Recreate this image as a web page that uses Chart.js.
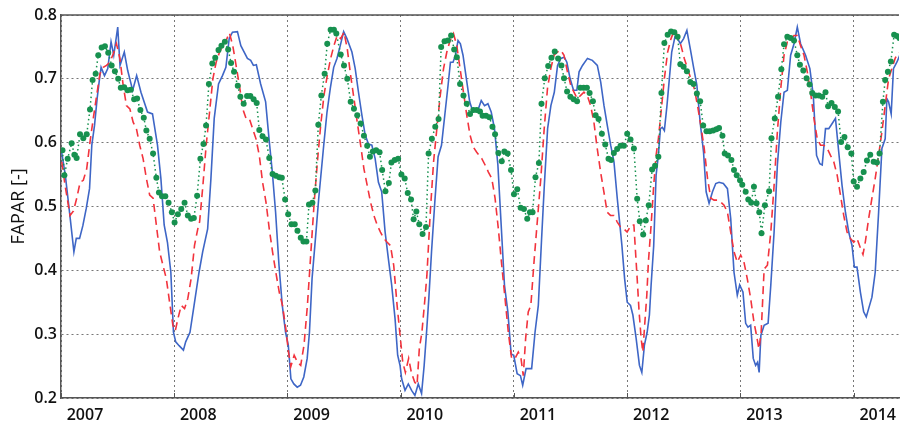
<!DOCTYPE html>
<html>
<head>
<meta charset="utf-8">
<script src="https://cdn.jsdelivr.net/npm/chart.js@4.4.1/dist/chart.umd.min.js"></script>
<style>
  html, body { margin: 0; padding: 0; background: #fff; }
  #wrap { width: 903px; height: 429px; }
</style>
</head>
<body>
<div id="wrap"><canvas id="fapar" width="903" height="429"></canvas></div>
<script>
// tick labels
const yearTicks = [2007, 2008, 2009, 2010, 2011, 2012, 2013, 2014];
const valueTicks = [0.2, 0.3, 0.4, 0.5, 0.6, 0.7, 0.8];

// blue solid series (decimal year, FAPAR)
const blueX = [2007.003, 2007.038, 2007.076, 2007.114, 2007.135, 2007.164, 2007.193, 2007.223, 2007.252, 2007.272,
  2007.296, 2007.319, 2007.340, 2007.354, 2007.384, 2007.413, 2007.442, 2007.466, 2007.501, 2007.521,
  2007.559, 2007.589, 2007.633, 2007.668, 2007.706, 2007.764, 2007.808, 2007.852, 2007.882, 2007.911,
  2007.940, 2007.970, 2007.993, 2008.013, 2008.043, 2008.081, 2008.101, 2008.139, 2008.175, 2008.219,
  2008.251, 2008.295, 2008.324, 2008.353, 2008.391, 2008.426, 2008.456, 2008.485, 2008.514, 2008.558,
  2008.588, 2008.646, 2008.675, 2008.699, 2008.725, 2008.763, 2008.807, 2008.837, 2008.866, 2008.895,
  2008.925, 2008.954, 2008.983, 2009.007, 2009.030, 2009.056, 2009.086, 2009.115, 2009.144, 2009.174,
  2009.194, 2009.217, 2009.247, 2009.276, 2009.320, 2009.349, 2009.378, 2009.408, 2009.437, 2009.466,
  2009.496, 2009.525, 2009.569, 2009.598, 2009.627, 2009.657, 2009.686, 2009.715, 2009.745, 2009.774,
  2009.803, 2009.832, 2009.862, 2009.891, 2009.920, 2009.950, 2009.973, 2009.994, 2010.008, 2010.038,
  2010.067, 2010.096, 2010.125, 2010.155, 2010.184, 2010.207, 2010.228, 2010.248, 2010.272, 2010.301,
  2010.330, 2010.360, 2010.389, 2010.418, 2010.439, 2010.462, 2010.483, 2010.506, 2010.527, 2010.550,
  2010.580, 2010.609, 2010.638, 2010.662, 2010.682, 2010.711, 2010.740, 2010.770, 2010.799, 2010.828,
  2010.858, 2010.887, 2010.916, 2010.946, 2010.975, 2010.998, 2011.028, 2011.057, 2011.077, 2011.107,
  2011.136, 2011.156, 2011.186, 2011.215, 2011.244, 2011.268, 2011.297, 2011.326, 2011.356, 2011.385,
  2011.414, 2011.444, 2011.467, 2011.496, 2011.526, 2011.555, 2011.575, 2011.605, 2011.649, 2011.692,
  2011.736, 2011.766, 2011.795, 2011.824, 2011.854, 2011.883, 2011.912, 2011.953, 2011.977, 2012.000,
  2012.029, 2012.050, 2012.079, 2012.108, 2012.129, 2012.152, 2012.176, 2012.196, 2012.211, 2012.234,
  2012.255, 2012.275, 2012.293, 2012.310, 2012.328, 2012.351, 2012.372, 2012.393, 2012.422, 2012.445,
  2012.469, 2012.498, 2012.527, 2012.557, 2012.586, 2012.615, 2012.644, 2012.674, 2012.697, 2012.723,
  2012.753, 2012.782, 2012.811, 2012.849, 2012.885, 2012.914, 2012.943, 2012.972, 2012.993, 2013.022,
  2013.046, 2013.066, 2013.090, 2013.113, 2013.134, 2013.151, 2013.165, 2013.180, 2013.209, 2013.244,
  2013.268, 2013.297, 2013.326, 2013.356, 2013.385, 2013.414, 2013.443, 2013.473, 2013.502, 2013.531,
  2013.575, 2013.613, 2013.643, 2013.672, 2013.701, 2013.722, 2013.751, 2013.780, 2013.810, 2013.839,
  2013.868, 2013.897, 2013.927, 2013.956, 2013.985, 2014.006, 2014.029, 2014.059, 2014.088, 2014.111,
  2014.132, 2014.161, 2014.190, 2014.220, 2014.249, 2014.278, 2014.293, 2014.308, 2014.331, 2014.351,
  2014.381, 2014.407];
const blueY = [0.588, 0.549, 0.490, 0.429, 0.450, 0.450, 0.470, 0.497, 0.528, 0.596,
  0.627, 0.669, 0.700, 0.718, 0.705, 0.716, 0.758, 0.737, 0.781, 0.721,
  0.742, 0.713, 0.682, 0.705, 0.679, 0.648, 0.645, 0.596, 0.544, 0.471,
  0.444, 0.397, 0.303, 0.288, 0.282, 0.275, 0.288, 0.303, 0.345, 0.397,
  0.429, 0.465, 0.544, 0.638, 0.692, 0.705, 0.718, 0.763, 0.773, 0.774,
  0.752, 0.732, 0.729, 0.721, 0.722, 0.692, 0.664, 0.606, 0.554, 0.491,
  0.408, 0.345, 0.303, 0.283, 0.230, 0.222, 0.217, 0.220, 0.233, 0.262,
  0.303, 0.387, 0.450, 0.513, 0.596, 0.648, 0.685, 0.718, 0.732, 0.752,
  0.774, 0.763, 0.742, 0.716, 0.679, 0.643, 0.612, 0.598, 0.596, 0.575,
  0.538, 0.523, 0.460, 0.418, 0.377, 0.324, 0.267, 0.251, 0.230, 0.212,
  0.222, 0.212, 0.204, 0.222, 0.207, 0.251, 0.303, 0.356, 0.429, 0.507,
  0.578, 0.596, 0.643, 0.690, 0.726, 0.726, 0.737, 0.760, 0.755, 0.737,
  0.700, 0.664, 0.648, 0.651, 0.651, 0.666, 0.658, 0.661, 0.648, 0.622,
  0.565, 0.471, 0.377, 0.335, 0.269, 0.267, 0.238, 0.235, 0.220, 0.246,
  0.246, 0.246, 0.303, 0.345, 0.450, 0.533, 0.622, 0.658, 0.679, 0.721,
  0.732, 0.734, 0.726, 0.700, 0.682, 0.682, 0.711, 0.721, 0.732, 0.729,
  0.721, 0.695, 0.658, 0.627, 0.596, 0.570, 0.513, 0.439, 0.387, 0.350,
  0.345, 0.330, 0.293, 0.251, 0.240, 0.283, 0.303, 0.330, 0.377, 0.439,
  0.549, 0.580, 0.622, 0.624, 0.619, 0.658, 0.700, 0.742, 0.766, 0.763,
  0.755, 0.763, 0.776, 0.747, 0.718, 0.690, 0.632, 0.585, 0.523, 0.505,
  0.523, 0.536, 0.538, 0.536, 0.528, 0.481, 0.397, 0.361, 0.377, 0.366,
  0.317, 0.311, 0.314, 0.262, 0.251, 0.256, 0.240, 0.298, 0.314, 0.317,
  0.377, 0.460, 0.565, 0.632, 0.679, 0.682, 0.737, 0.755, 0.781, 0.755,
  0.737, 0.716, 0.674, 0.580, 0.567, 0.565, 0.622, 0.622, 0.630, 0.638,
  0.585, 0.533, 0.491, 0.460, 0.439, 0.405, 0.405, 0.366, 0.335, 0.327,
  0.340, 0.358, 0.397, 0.491, 0.591, 0.606, 0.669, 0.664, 0.645, 0.716,
  0.726, 0.737];

// red dashed series
const redX = [2007.007, 2007.036, 2007.080, 2007.110, 2007.139, 2007.169, 2007.197, 2007.227, 2007.256, 2007.285,
  2007.315, 2007.344, 2007.373, 2007.402, 2007.432, 2007.461, 2007.490, 2007.520, 2007.549, 2007.578,
  2007.608, 2007.637, 2007.666, 2007.695, 2007.725, 2007.754, 2007.783, 2007.813, 2007.842, 2007.871,
  2007.900, 2007.930, 2007.959, 2007.988, 2008.009, 2008.032, 2008.062, 2008.091, 2008.120, 2008.149,
  2008.179, 2008.208, 2008.224, 2008.253, 2008.282, 2008.312, 2008.341, 2008.370, 2008.400, 2008.429,
  2008.458, 2008.487, 2008.517, 2008.546, 2008.575, 2008.605, 2008.634, 2008.663, 2008.692, 2008.722,
  2008.751, 2008.780, 2008.810, 2008.839, 2008.868, 2008.897, 2008.927, 2008.956, 2008.985, 2009.009,
  2009.029, 2009.059, 2009.088, 2009.117, 2009.146, 2009.176, 2009.205, 2009.234, 2009.264, 2009.293,
  2009.322, 2009.351, 2009.381, 2009.410, 2009.439, 2009.470, 2009.499, 2009.528, 2009.558, 2009.587,
  2009.616, 2009.646, 2009.675, 2009.704, 2009.733, 2009.763, 2009.792, 2009.821, 2009.851, 2009.880,
  2009.909, 2009.938, 2009.968, 2009.997, 2010.018, 2010.041, 2010.070, 2010.094, 2010.123, 2010.144,
  2010.164, 2010.187, 2010.211, 2010.231, 2010.261, 2010.290, 2010.319, 2010.349, 2010.378, 2010.407,
  2010.436, 2010.466, 2010.495, 2010.524, 2010.554, 2010.583, 2010.612, 2010.641, 2010.671, 2010.716,
  2010.745, 2010.774, 2010.804, 2010.833, 2010.862, 2010.892, 2010.921, 2010.950, 2010.979, 2011.009,
  2011.038, 2011.062, 2011.082, 2011.103, 2011.126, 2011.149, 2011.179, 2011.208, 2011.237, 2011.267,
  2011.296, 2011.325, 2011.354, 2011.384, 2011.413, 2011.442, 2011.472, 2011.501, 2011.530, 2011.559,
  2011.589, 2011.618, 2011.647, 2011.677, 2011.706, 2011.735, 2011.765, 2011.794, 2011.823, 2011.852,
  2011.882, 2011.911, 2011.940, 2011.970, 2011.999, 2012.035, 2012.059, 2012.070, 2012.088, 2012.105,
  2012.123, 2012.138, 2012.152, 2012.173, 2012.187, 2012.211, 2012.234, 2012.255, 2012.275, 2012.299,
  2012.328, 2012.357, 2012.387, 2012.416, 2012.445, 2012.475, 2012.504, 2012.533, 2012.562, 2012.592,
  2012.621, 2012.650, 2012.680, 2012.709, 2012.738, 2012.767, 2012.797, 2012.826, 2012.855, 2012.885,
  2012.914, 2012.943, 2012.972, 2013.002, 2013.031, 2013.060, 2013.090, 2013.119, 2013.142, 2013.163,
  2013.183, 2013.209, 2013.238, 2013.268, 2013.297, 2013.326, 2013.356, 2013.385, 2013.414, 2013.443,
  2013.473, 2013.502, 2013.531, 2013.561, 2013.590, 2013.619, 2013.649, 2013.678, 2013.707, 2013.736,
  2013.766, 2013.795, 2013.824, 2013.854, 2013.883, 2013.912, 2013.941, 2013.971, 2014.000, 2014.029,
  2014.059, 2014.082, 2014.103, 2014.132, 2014.161, 2014.190, 2014.220, 2014.249, 2014.278, 2014.308,
  2014.337, 2014.366, 2014.395];
const redY = [0.570, 0.533, 0.486, 0.493, 0.513, 0.538, 0.541, 0.559, 0.601, 0.638,
  0.674, 0.708, 0.718, 0.721, 0.726, 0.739, 0.755, 0.732, 0.690, 0.658,
  0.653, 0.632, 0.622, 0.596, 0.575, 0.544, 0.518, 0.513, 0.471, 0.429,
  0.408, 0.387, 0.350, 0.314, 0.305, 0.324, 0.345, 0.340, 0.356, 0.387,
  0.439, 0.465, 0.476, 0.533, 0.596, 0.648, 0.700, 0.726, 0.742, 0.752,
  0.760, 0.772, 0.752, 0.721, 0.690, 0.653, 0.638, 0.638, 0.622, 0.606,
  0.580, 0.538, 0.507, 0.465, 0.429, 0.397, 0.366, 0.345, 0.309, 0.272,
  0.249, 0.267, 0.256, 0.251, 0.283, 0.345, 0.424, 0.502, 0.570, 0.627,
  0.674, 0.705, 0.732, 0.752, 0.768, 0.763, 0.773, 0.747, 0.705, 0.669,
  0.632, 0.596, 0.559, 0.533, 0.507, 0.486, 0.471, 0.460, 0.450, 0.444,
  0.439, 0.408, 0.345, 0.293, 0.256, 0.240, 0.262, 0.240, 0.225, 0.220,
  0.277, 0.303, 0.350, 0.392, 0.491, 0.570, 0.622, 0.674, 0.716, 0.742,
  0.760, 0.771, 0.752, 0.716, 0.679, 0.643, 0.612, 0.593, 0.585, 0.575,
  0.565, 0.554, 0.544, 0.513, 0.465, 0.408, 0.356, 0.303, 0.262, 0.262,
  0.272, 0.262, 0.235, 0.293, 0.335, 0.345, 0.418, 0.481, 0.544, 0.622,
  0.685, 0.716, 0.737, 0.742, 0.745, 0.737, 0.711, 0.690, 0.679, 0.669,
  0.674, 0.679, 0.674, 0.658, 0.632, 0.591, 0.554, 0.523, 0.491, 0.486,
  0.486, 0.476, 0.468, 0.465, 0.460, 0.471, 0.471, 0.439, 0.387, 0.335,
  0.293, 0.272, 0.309, 0.361, 0.413, 0.471, 0.533, 0.580, 0.606, 0.648,
  0.700, 0.742, 0.763, 0.776, 0.768, 0.752, 0.732, 0.716, 0.700, 0.685,
  0.658, 0.627, 0.591, 0.544, 0.513, 0.510, 0.510, 0.507, 0.502, 0.491,
  0.460, 0.429, 0.413, 0.424, 0.413, 0.387, 0.356, 0.319, 0.298, 0.277,
  0.303, 0.402, 0.408, 0.460, 0.533, 0.617, 0.685, 0.737, 0.758, 0.760,
  0.768, 0.768, 0.752, 0.737, 0.711, 0.679, 0.638, 0.606, 0.596, 0.596,
  0.591, 0.580, 0.570, 0.549, 0.518, 0.486, 0.460, 0.450, 0.444, 0.450,
  0.435, 0.425, 0.445, 0.481, 0.513, 0.544, 0.580, 0.617, 0.658, 0.700,
  0.716, 0.732, 0.742];

// green dotted series (dekadal points)
const greenX = [2007.013, 2007.030, 2007.059, 2007.094, 2007.118, 2007.138, 2007.168, 2007.197, 2007.227, 2007.256,
  2007.279, 2007.306, 2007.329, 2007.359, 2007.388, 2007.417, 2007.447, 2007.476, 2007.505, 2007.528,
  2007.558, 2007.587, 2007.616, 2007.646, 2007.672, 2007.701, 2007.731, 2007.754, 2007.783, 2007.813,
  2007.842, 2007.865, 2007.892, 2007.921, 2007.950, 2007.979, 2008.003, 2008.032, 2008.062, 2008.091,
  2008.120, 2008.149, 2008.173, 2008.202, 2008.231, 2008.258, 2008.281, 2008.306, 2008.336, 2008.362,
  2008.391, 2008.417, 2008.447, 2008.476, 2008.502, 2008.528, 2008.561, 2008.584, 2008.613, 2008.643,
  2008.672, 2008.701, 2008.728, 2008.751, 2008.780, 2008.810, 2008.839, 2008.868, 2008.897, 2008.927,
  2008.950, 2008.979, 2009.006, 2009.035, 2009.064, 2009.088, 2009.117, 2009.141, 2009.167, 2009.190,
  2009.220, 2009.246, 2009.272, 2009.299, 2009.328, 2009.351, 2009.381, 2009.410, 2009.431, 2009.470,
  2009.499, 2009.528, 2009.558, 2009.587, 2009.616, 2009.646, 2009.675, 2009.704, 2009.728, 2009.754,
  2009.783, 2009.813, 2009.836, 2009.865, 2009.895, 2009.918, 2009.947, 2009.977, 2010.006, 2010.035,
  2010.062, 2010.091, 2010.114, 2010.138, 2010.164, 2010.193, 2010.223, 2010.246, 2010.275, 2010.305,
  2010.334, 2010.357, 2010.387, 2010.416, 2010.445, 2010.472, 2010.495, 2010.524, 2010.554, 2010.583,
  2010.612, 2010.641, 2010.671, 2010.700, 2010.723, 2010.753, 2010.783, 2010.810, 2010.833, 2010.862,
  2010.892, 2010.915, 2010.944, 2010.974, 2011.000, 2011.029, 2011.059, 2011.088, 2011.117, 2011.141,
  2011.164, 2011.190, 2011.220, 2011.243, 2011.272, 2011.302, 2011.331, 2011.360, 2011.390, 2011.419,
  2011.442, 2011.469, 2011.498, 2011.527, 2011.557, 2011.586, 2011.615, 2011.644, 2011.668, 2011.697,
  2011.721, 2011.747, 2011.776, 2011.806, 2011.835, 2011.858, 2011.882, 2011.911, 2011.941, 2011.971,
  2012.000, 2012.029, 2012.059, 2012.088, 2012.111, 2012.141, 2012.164, 2012.190, 2012.220, 2012.246,
  2012.275, 2012.302, 2012.328, 2012.357, 2012.387, 2012.416, 2012.445, 2012.469, 2012.498, 2012.527,
  2012.557, 2012.586, 2012.615, 2012.644, 2012.671, 2012.700, 2012.729, 2012.759, 2012.788, 2012.811,
  2012.841, 2012.861, 2012.890, 2012.920, 2012.943, 2012.967, 2012.996, 2013.016, 2013.046, 2013.069,
  2013.095, 2013.119, 2013.142, 2013.166, 2013.186, 2013.216, 2013.253, 2013.274, 2013.303, 2013.332,
  2013.361, 2013.385, 2013.414, 2013.443, 2013.473, 2013.502, 2013.525, 2013.555, 2013.584, 2013.610,
  2013.634, 2013.663, 2013.692, 2013.722, 2013.751, 2013.774, 2013.804, 2013.833, 2013.862, 2013.889,
  2013.918, 2013.947, 2013.979, 2014.000, 2014.029, 2014.059, 2014.088, 2014.117, 2014.146, 2014.176,
  2014.205, 2014.228, 2014.258, 2014.278, 2014.302, 2014.328, 2014.357, 2014.381, 2014.404];
const greenY = [0.588, 0.549, 0.575, 0.599, 0.581, 0.576, 0.613, 0.607, 0.613, 0.652,
  0.698, 0.708, 0.737, 0.749, 0.751, 0.741, 0.721, 0.712, 0.700, 0.686,
  0.687, 0.682, 0.683, 0.668, 0.669, 0.651, 0.639, 0.619, 0.606, 0.583,
  0.545, 0.522, 0.516, 0.516, 0.506, 0.491, 0.475, 0.488, 0.496, 0.506,
  0.486, 0.481, 0.482, 0.517, 0.575, 0.598, 0.627, 0.692, 0.724, 0.733,
  0.745, 0.752, 0.758, 0.746, 0.725, 0.711, 0.689, 0.672, 0.661, 0.673,
  0.673, 0.668, 0.662, 0.620, 0.610, 0.605, 0.576, 0.551, 0.548, 0.546,
  0.545, 0.511, 0.488, 0.472, 0.472, 0.462, 0.451, 0.445, 0.445, 0.503,
  0.506, 0.525, 0.628, 0.674, 0.708, 0.755, 0.777, 0.777, 0.771, 0.738,
  0.721, 0.700, 0.664, 0.653, 0.643, 0.630, 0.611, 0.595, 0.578, 0.586,
  0.588, 0.585, 0.557, 0.524, 0.537, 0.569, 0.573, 0.575, 0.550, 0.544,
  0.521, 0.511, 0.480, 0.492, 0.472, 0.457, 0.468, 0.583, 0.606, 0.625,
  0.637, 0.750, 0.759, 0.760, 0.768, 0.746, 0.734, 0.692, 0.674, 0.661,
  0.645, 0.651, 0.651, 0.649, 0.642, 0.642, 0.640, 0.625, 0.613, 0.584,
  0.571, 0.586, 0.583, 0.557, 0.519, 0.527, 0.498, 0.496, 0.481, 0.491,
  0.491, 0.546, 0.568, 0.661, 0.701, 0.720, 0.733, 0.743, 0.732, 0.721,
  0.701, 0.680, 0.672, 0.668, 0.665, 0.686, 0.686, 0.686, 0.678, 0.665,
  0.643, 0.637, 0.614, 0.597, 0.575, 0.573, 0.584, 0.590, 0.595, 0.595,
  0.614, 0.605, 0.591, 0.512, 0.477, 0.456, 0.478, 0.502, 0.558, 0.564,
  0.578, 0.678, 0.756, 0.769, 0.774, 0.773, 0.766, 0.723, 0.719, 0.712,
  0.695, 0.692, 0.677, 0.665, 0.627, 0.618, 0.618, 0.619, 0.621, 0.623,
  0.611, 0.583, 0.580, 0.573, 0.557, 0.549, 0.541, 0.534, 0.523, 0.511,
  0.506, 0.531, 0.505, 0.491, 0.458, 0.502, 0.524, 0.607, 0.638, 0.672,
  0.715, 0.754, 0.766, 0.764, 0.760, 0.737, 0.722, 0.713, 0.701, 0.691,
  0.678, 0.674, 0.674, 0.672, 0.679, 0.657, 0.662, 0.656, 0.649, 0.601,
  0.609, 0.593, 0.583, 0.539, 0.531, 0.544, 0.554, 0.572, 0.581, 0.570,
  0.569, 0.583, 0.664, 0.698, 0.711, 0.727, 0.769, 0.767, 0.764];

const toPoints = (xs, ys) => xs.map((x, i) => ({ x: x, y: ys[i] }));

// frame on top edge and inner year ticks at the bottom
const framePlugin = {
  id: 'frame',
  afterDraw(chart) {
    const { ctx, chartArea } = chart;
    const xs = chart.scales.x;
    ctx.save();
    ctx.strokeStyle = '#555';
    ctx.lineWidth = 1.5;
    ctx.beginPath();
    ctx.moveTo(chartArea.left, chartArea.top);
    ctx.lineTo(chartArea.right, chartArea.top);
    ctx.stroke();
    ctx.lineWidth = 1;
    ctx.beginPath();
    yearTicks.forEach(v => {
      const px = Math.round(xs.getPixelForValue(v)) + 0.5;
      ctx.moveTo(px, chartArea.bottom);
      ctx.lineTo(px, chartArea.bottom - 5);
    });
    ctx.stroke();
    ctx.restore();
  }
};

const chart = new Chart(document.getElementById('fapar'), {
  type: 'line',
  data: {
    datasets: [
      {
        label: 'green',
        data: toPoints(greenX, greenY),
        borderColor: '#17914f',
        backgroundColor: '#17914f',
        borderWidth: 1.5,
        borderDash: [1.5, 3],
        pointRadius: 3,
        pointBorderWidth: 0,
        order: 0
      },
      {
        label: 'red',
        data: toPoints(redX, redY),
        borderColor: '#f2333d',
        borderWidth: 1.6,
        borderDash: [8, 5],
        pointRadius: 0,
        order: 1
      },
      {
        label: 'blue',
        data: toPoints(blueX, blueY),
        borderColor: '#3e66c6',
        borderWidth: 1.6,
        pointRadius: 0,
        order: 2
      }
    ]
  },
  options: {
    responsive: false,
    animation: false,
    devicePixelRatio: 1,
    layout: { padding: { top: 15, right: 0, bottom: 0, left: 0 } },
    elements: { line: { tension: 0 } },
    plugins: { legend: { display: false }, tooltip: { enabled: false } },
    scales: {
      x: {
        type: 'linear',
        min: 2007,
        max: 2014.4,
        afterBuildTicks: (scale) => { scale.ticks = yearTicks.map(v => ({ value: v })); },
        afterFit: (scale) => { scale.height = 31; },
        ticks: {
          callback: (v) => String(v),
          color: '#111',
          font: { family: 'Open Sans', size: 16, weight: '600' },
          labelOffset: 24,
          padding: 8,
          maxRotation: 0,
          autoSkip: false
        },
        grid: { color: '#777', lineWidth: 1, drawTicks: false },
        border: { display: true, color: '#555', width: 1.5, dash: [2, 3] }
      },
      y: {
        min: 0.2,
        max: 0.8,
        afterBuildTicks: (scale) => { scale.ticks = valueTicks.map(v => ({ value: v })); },
        afterFit: (scale) => { scale.width = 61; },
        ticks: {
          callback: (v) => v.toFixed(1),
          color: '#111',
          font: { family: 'Open Sans', size: 16, weight: '600' },
          padding: 4
        },
        title: {
          display: true,
          text: 'FAPAR [-]',
          color: '#111',
          font: { family: 'Open Sans', size: 18 },
          padding: { top: 8, bottom: 0 }
        },
        grid: { color: '#777', lineWidth: 1, drawTicks: false },
        border: { display: true, color: '#555', width: 1.5, dash: [2, 3] }
      }
    }
  },
  plugins: [framePlugin]
});
</script>
</body>
</html>
